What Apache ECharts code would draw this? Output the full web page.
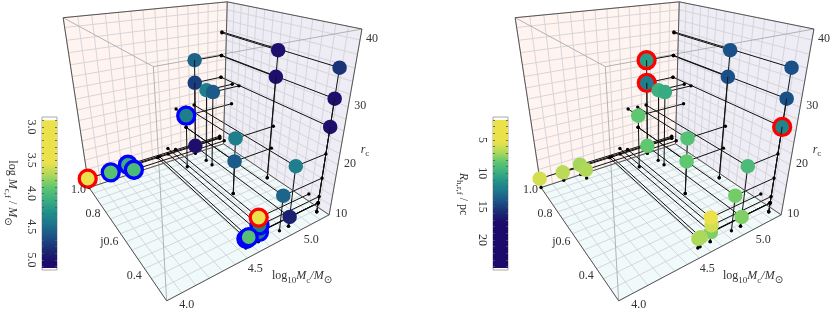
<!DOCTYPE html><html><head><meta charset="utf-8"><style>html,body{margin:0;padding:0;background:#fff}#c{width:831px;height:310px}</style></head><body><div id="c"></div>
<script src="https://cdn.jsdelivr.net/npm/echarts@6/dist/echarts.min.js"></script>
<script>
// ---- data ----
const logMc = [4.0,4.2,4.36,4.38,5.06,5.06,5.06,4.86,5.07,5.07,4.96,4.96,5.35,5.35,5.35,5.35,5.35,5.05,4.96,5.05,4.76,4.76,4.84,4.65,4.67];
const jVal  = [1.0,1.0,1.0,0.96,1.0,1.0,1.0,0.91,0.91,0.86,0.62,0.62,0.63,0.63,0.34,0.34,0.34,0.34,0.34,0.34,0.34,0.34,0.39,0.34,0.34];
const rc    = [12,11.8,12.3,11.9,31,26.3,11.8,21.6,25.9,26.2,21.5,16.9,35.6,30.9,35.8,31,26.3,21.5,16.9,11.9,11.9,13.2,12.4,11.8,11.9];
const logMcf= [3.4,3.95,4.1,4.0,4.55,4.75,5.0,4.4,4.4,4.6,4.4,4.6,5.0,5.0,4.8,5.0,5.0,4.4,4.55,4.9,4.4,4.4,3.4,3.95,3.95];
const Rhrf  = [5.9,6.5,7,6.8,10.7,12.3,8.3,8.3,9.7,10,8.7,8.3,14.3,14.3,14.3,14.3,11.9,9.1,7.9,7.7,7.7,6,5.2,6.9,6.9];
const ringLeft  = ['r','b','b','b','','','','b','','','','','','','','','','','','','b','b','r','b','b'];
const ringRight = ['','','','','r','r','','','','','','','','','','','r','','','','','','','',''];
const stemShows = [4,5,13,15,16];
const mTicks=[4.0,4.5,5.0], mTickLabels=['4.0','4.5','5.0'];
const jTicks=[1.0,0.8,0.6,0.4], jTickLabels=['1.0','0.8','j0.6','0.4'];
const rTicks=[10,20,30,40], rTickLabels=['10','20','30','40'];
const cbLeftTicks=[3,3.5,4,4.5,5], cbLeftLabels=['3.0','3.5','4.0','4.5','5.0'];
const cbRightTicks=[5,10,15,20], cbRightLabels=['5','10','15','20'];
// ---- box ranges ----
const Mmin=4,Mmax=5.4,jmax=1,jmin=0.3,rmin=10,rmax=41.5,Mwall=5.35;
// ---- perspective camera, fitted to the box's eight corners ----
const C=[[0,0,1,64,17],[1,0,1,226,2],[0,1,1,153,66],[1,1,1,363,30],[0,0,0,89,189],[1,0,0,224,143],[0,1,0,166,300],[1,1,0,329,215]];
function fit(C){const A=[],b=[];for(const [u,v,w,x,y] of C){A.push([u,v,w,1,0,0,0,0,-x*u,-x*v,-x*w]);b.push(x);A.push([0,0,0,0,u,v,w,1,-y*u,-y*v,-y*w]);b.push(y);}
const n=11,N=[...Array(n)].map(()=>Array(n+1).fill(0));A.forEach((r,k)=>{for(let i=0;i<n;i++){for(let j=0;j<n;j++)N[i][j]+=r[i]*r[j];N[i][n]+=r[i]*b[k];}});
for(let i=0;i<n;i++){let p=i;for(let r=i;r<n;r++)if(Math.abs(N[r][i])>Math.abs(N[p][i]))p=r;[N[i],N[p]]=[N[p],N[i]];for(let r=0;r<n;r++)if(r!=i){const f=N[r][i]/N[i][i];for(let c=i;c<=n;c++)N[r][c]-=f*N[i][c];}}
return N.map((r,i)=>r[n]/r[i]);}
const P=fit(C);
function proj(m,j,r,dx){const u=(m-Mmin)/(Mmax-Mmin),v=(jmax-j)/(jmax-jmin),w=(r-rmin)/(rmax-rmin);const d=P[8]*u+P[9]*v+P[10]*w+1;return [(P[0]*u+P[1]*v+P[2]*w+P[3])/d+dx,(P[4]*u+P[5]*v+P[6]*w+P[7])/d];}
// ---- colour map ----
const cm=[[0,'#1c0b6b'],[.12,'#1b2a72'],[.25,'#1a5088'],[.4,'#1e7a8c'],[.5,'#21908a'],[.63,'#3db080'],[.75,'#5ec76f'],[.87,'#aed85a'],[1,'#ebe24b']];
const hx=h=>[1,3,5].map(i=>parseInt(h.slice(i,i+2),16));
function cmap(t){t=Math.max(0,Math.min(1,t));for(let i=1;i<cm.length;i++)if(t<=cm[i][0]){const f=(t-cm[i-1][0])/(cm[i][0]-cm[i-1][0]),a=hx(cm[i-1][1]),b=hx(cm[i][1]);return 'rgb('+a.map((x,k)=>Math.round(x+(b[k]-x)*f)).join(',')+')';}return cm[cm.length-1][1];}
const tLeft=v=>(5.03-v)/1.5, tRight=v=>(17.3-v)/12;
const range=(a,b,s)=>{const o=[];for(let x=a;x<=b+1e-9;x+=s)o.push(+x.toFixed(4));return o;};
const mGrid=range(4,5.4,.1),jGrid=range(.3,1,.05),rGrid=range(10,40,2).concat([rmax]);
const FONT='"Liberation Serif",serif',TXT='#333';
const series=[],xAxes=[{type:'value',show:false,min:0,max:831,gridIndex:0}],yAxes=[{type:'value',show:false,min:0,max:310,inverse:true,gridIndex:0}];
const grids=[{left:0,top:0,right:0,bottom:0}];
let zc=1;
function segSeries(segs,stroke,lw){series.push({type:'custom',xAxisIndex:0,yAxisIndex:0,silent:true,clip:false,z:zc++,animation:false,data:segs,encode:{x:[0,2],y:[1,3]},
 renderItem:(p,api)=>{const a=api.coord([api.value(0),api.value(1)]),b=api.coord([api.value(2),api.value(3)]);return {type:'line',shape:{x1:a[0],y1:a[1],x2:b[0],y2:b[1]},style:{stroke,lineWidth:lw}};}});}
function polySeries(pts,fill){series.push({type:'custom',xAxisIndex:0,yAxisIndex:0,silent:true,clip:false,z:zc++,animation:false,data:[[pts[0][0],pts[0][1]]],encode:{x:0,y:1},
 renderItem:(p,api)=>({type:'polygon',shape:{points:pts.map(q=>api.coord(q))},style:{fill}})});}
function textSeries(items){series.push({type:'custom',xAxisIndex:0,yAxisIndex:0,silent:true,clip:false,z:zc++,animation:false,data:items.map(t=>[t.x,t.y]),encode:{x:0,y:1},
 renderItem:(p,api)=>{const t=items[p.dataIndex],a=api.coord([t.x,t.y]);return {type:'text',x:a[0],y:a[1],style:{text:t.s,fill:TXT,font:'12px '+FONT,textAlign:t.al||'center',textVerticalAlign:'middle'}};}});}
function panel(dx,values,tf,rings,cbX,cbMin,cbMax,cbTop,cbBot,cbStep,cbTicks,cbLabels){
 const pr=(m,j,r)=>proj(m,j,r,dx),seg=(a,b)=>a.concat(b);
 polySeries([pr(Mmin,jmax,rmin),pr(Mmax,jmax,rmin),pr(Mmax,jmax,rmax),pr(Mmin,jmax,rmax)],'#fff4f0');
 polySeries([pr(Mmax,jmax,rmin),pr(Mmax,jmin,rmin),pr(Mmax,jmin,rmax),pr(Mmax,jmax,rmax)],'#eeecf4');
 polySeries([pr(Mmin,jmax,rmin),pr(Mmax,jmax,rmin),pr(Mmax,jmin,rmin),pr(Mmin,jmin,rmin)],'#f1fafa');
 const gs=[];
 mGrid.forEach(m=>{gs.push(seg(pr(m,jmax,rmin),pr(m,jmax,rmax)));gs.push(seg(pr(m,jmax,rmin),pr(m,jmin,rmin)));});
 jGrid.forEach(j=>{gs.push(seg(pr(Mmax,j,rmin),pr(Mmax,j,rmax)));gs.push(seg(pr(Mmin,j,rmin),pr(Mmax,j,rmin)));});
 rGrid.forEach(r=>{gs.push(seg(pr(Mmin,jmax,r),pr(Mmax,jmax,r)));gs.push(seg(pr(Mmax,jmax,r),pr(Mmax,jmin,r)));});
 segSeries(gs,'#d3d3d6',.9);
 segSeries([seg(pr(Mmin,jmax,rmax),pr(Mmin,jmin,rmax)),seg(pr(Mmin,jmin,rmax),pr(Mmax,jmin,rmax)),seg(pr(Mmin,jmin,rmax),pr(Mmin,jmin,rmin))],'#aaaaaa',.9);
 const st=[],dots=[];
 logMc.forEach((m,i)=>{const j=jVal[i],r=rc[i],c=pr(m,j,r);
  [pr(m,j,rmin),pr(m,jmax,r),pr(Mwall,j,r)].forEach(e=>{st.push(seg(c,e));dots.push(e);});});
 segSeries(st,'#111',1);
 segSeries([seg(pr(Mmin,jmax,rmax),pr(Mmax,jmax,rmax)),seg(pr(Mmax,jmax,rmax),pr(Mmax,jmin,rmax)),seg(pr(Mmin,jmax,rmax),pr(Mmin,jmax,rmin)),seg(pr(Mmax,jmin,rmax),pr(Mmax,jmin,rmin)),seg(pr(Mmin,jmax,rmin),pr(Mmin,jmin,rmin)),seg(pr(Mmin,jmin,rmin),pr(Mmax,jmin,rmin)),seg(pr(Mmax,jmax,rmin),pr(Mmax,jmax,rmax)),seg(pr(Mmin,jmax,rmin),pr(Mmax,jmax,rmin)),seg(pr(Mmax,jmax,rmin),pr(Mmax,jmin,rmin))],'#555',1);
 series.push({type:'scatter',xAxisIndex:0,yAxisIndex:0,silent:true,clip:false,z:zc++,animation:false,symbolSize:3.4,itemStyle:{color:'#000',opacity:1},data:dots});
 const mk=logMc.map((m,i)=>{const ring=rings[i],xy=pr(m,jVal[i],rc[i]);const it={color:cmap(tf(values[i])),opacity:1};
  if(ring){it.borderColor=ring=='r'?'#ff0000':'#0000ff';it.borderWidth=3.3;}
  return {value:xy,symbolSize:ring?17:14.5,itemStyle:it};});
 series.push({type:'scatter',xAxisIndex:0,yAxisIndex:0,silent:true,clip:false,z:zc++,animation:false,data:mk});
 segSeries(stemShows.map(i=>seg(pr(logMc[i],jVal[i],rc[i]),pr(logMc[i],jVal[i],rc[i]-1.3))),'#111',1);
 const tl=[];
 mTicks.forEach((m,i)=>{const q=pr(m,jmin,rmin);tl.push({x:q[0]+20,y:q[1]+4.5,s:mTickLabels[i]});});
 jTicks.forEach((j,i)=>{const q=pr(Mmin,j,rmin),v=(jmax-j)/(jmax-jmin);tl.push({x:q[0]-3-8*v,y:q[1]+2-7*v*v,s:jTickLabels[i],al:'right'});});
 rTicks.forEach((r,i)=>{const q=pr(Mmax,jmin,r);tl.push({x:q[0]+12,y:q[1]-1,s:rTickLabels[i]});});
 textSeries(tl);
 const gi=grids.length;
 grids.push({left:cbX,width:15,top:117,height:153,show:true,backgroundColor:'#fff',borderColor:'#aaa',borderWidth:1,z:zc});
 xAxes.push({type:'value',show:false,min:0,max:1,gridIndex:gi});
 const stops=range(0,1,.02).map(f=>({offset:f,color:cmap(tf(cbTop+(cbBot-cbTop)*f))}));
 const tickV=range(Math.ceil(cbMin/cbStep)*cbStep,cbMax,cbStep);
 const ax=(pos,lab)=>({type:'value',gridIndex:gi,position:pos,inverse:true,min:cbMin,max:cbMax,splitLine:{show:false},axisLine:{show:false},z:zc+2,
  axisTick:{show:true,inside:true,length:2,lineStyle:{color:'#555',width:.8},customValues:tickV},
  axisLabel:lab?{show:true,customValues:cbTicks,rotate:-90,margin:5,fontFamily:FONT,fontSize:12,color:TXT,formatter:v=>cbLabels[cbTicks.findIndex(x=>Math.abs(x-v)<1e-6)]}:{show:false}});
 const y0=yAxes.length;yAxes.push(ax('left',true),ax('right',false));
 series.push({type:'custom',xAxisIndex:gi,yAxisIndex:y0,silent:true,z:zc+1,animation:false,data:[[0,cbTop,1,cbBot]],encode:{x:[0,2],y:[1,3]},
  renderItem:(p,api)=>{const a=api.coord([0,cbTop]),b=api.coord([1,cbBot]);return {type:'rect',shape:{x:a[0],y:a[1],width:b[0]-a[0],height:b[1]-a[1]},style:{fill:{type:'linear',x:0,y:0,x2:0,y2:1,colorStops:stops}}};}});
 zc+=3;
}
const sub={fontFamily:FONT,fontSize:9,fill:TXT,verticalAlign:'bottom',lineHeight:17},it={fontFamily:FONT,fontStyle:'italic',fontSize:12,fill:TXT,verticalAlign:'middle',lineHeight:13},rm={fontFamily:FONT,fontSize:12,fill:TXT,verticalAlign:'middle',lineHeight:13};
const rich={rm,it,sub,big:{fontFamily:'"DejaVu Sans"',fontSize:10,fill:TXT,verticalAlign:'bottom',lineHeight:19}};
panel(0,logMcf,tLeft,ringLeft,42,2.85,5.15,2.9,5.12,.1,cbLeftTicks,cbLeftLabels);
panel(452,Rhrf,tRight,ringRight,493,1.55,24.5,2,24.2,1,cbRightTicks,cbRightLabels);
const txt=(x,y,text,rot,align)=>({type:'text',x,y,rotation:rot||0,z:200,style:{text,rich,textAlign:align||'center',textVerticalAlign:'middle'}});
const axisTitle='{rm|log}{sub|10}{it|M}{sub|c}{it|/M}{big|⊙}';
const option={animation:false,backgroundColor:'#fff',grid:grids,xAxis:xAxes,yAxis:yAxes,series,
 graphic:[txt(302,276,axisTitle),txt(753,276,axisTitle),txt(365,150,'{it|r}{sub|c}'),txt(817,150,'{it|r}{sub|c}'),
  txt(12,193,'{rm|log }{it|M}{sub|c,f}{rm| / }{it|M}{big|⊙}',-Math.PI/2),txt(463,194,'{it|R}{sub|h,r,f}{rm| / pc}',-Math.PI/2)]};
echarts.init(document.getElementById('c'),null,{renderer:'canvas'}).setOption(option);
</script></body></html>
